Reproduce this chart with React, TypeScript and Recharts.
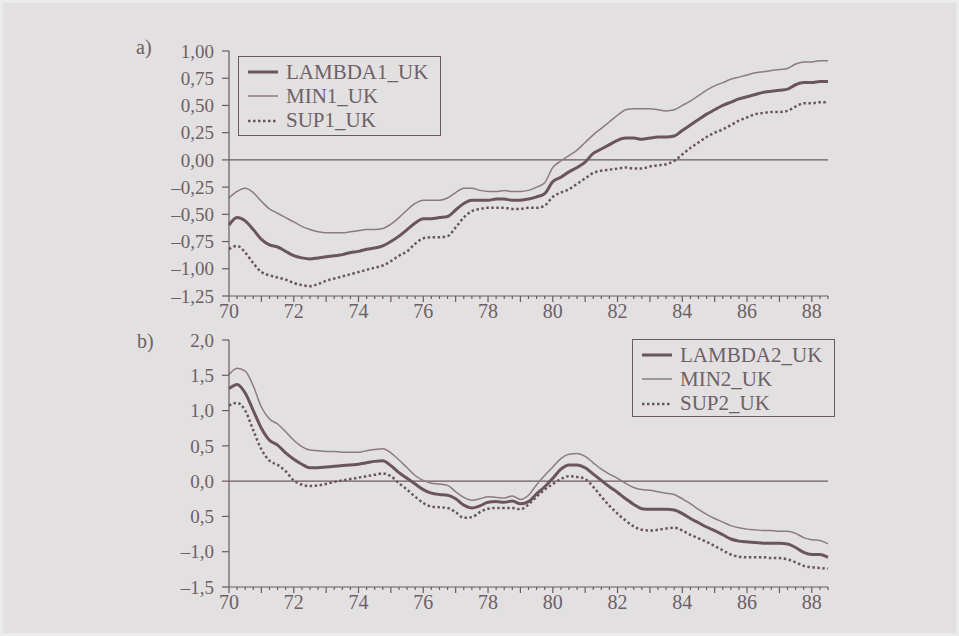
import React from 'react';
import { LineChart, Line, XAxis, YAxis, ReferenceLine, Legend } from 'recharts';

// quarterly time points, 1970 .. 1988.5
const years = [
  70, 70.25, 70.5, 70.75, 71, 71.25, 71.5, 71.75, 72, 72.25, 72.5, 72.75,
  73, 73.25, 73.5, 73.75, 74, 74.25, 74.5, 74.75, 75, 75.25, 75.5, 75.75,
  76, 76.25, 76.5, 76.75, 77, 77.25, 77.5, 77.75, 78, 78.25, 78.5, 78.75,
  79, 79.25, 79.5, 79.75, 80, 80.25, 80.5, 80.75, 81, 81.25, 81.5, 81.75,
  82, 82.25, 82.5, 82.75, 83, 83.25, 83.5, 83.75, 84, 84.25, 84.5, 84.75,
  85, 85.25, 85.5, 85.75, 86, 86.25, 86.5, 86.75, 87, 87.25, 87.5, 87.75,
  88, 88.25, 88.5,
];

const lambda1 = [
  -0.60, -0.53, -0.56, -0.64, -0.73, -0.78, -0.80, -0.84, -0.88, -0.90, -0.91, -0.90,
  -0.89, -0.88, -0.87, -0.85, -0.84, -0.82, -0.81, -0.79, -0.75, -0.70, -0.64, -0.58,
  -0.54, -0.54, -0.53, -0.52, -0.46, -0.40, -0.37, -0.37, -0.37, -0.36, -0.36, -0.37,
  -0.37, -0.36, -0.34, -0.31, -0.20, -0.16, -0.11, -0.07, -0.02, 0.06, 0.10, 0.14,
  0.18, 0.20, 0.20, 0.19, 0.20, 0.21, 0.21, 0.22, 0.27, 0.32, 0.37, 0.42,
  0.46, 0.50, 0.53, 0.56, 0.58, 0.60, 0.62, 0.63, 0.64, 0.65, 0.69, 0.71,
  0.71, 0.72, 0.72,
];
const min1 = [
  -0.35, -0.29, -0.26, -0.30, -0.38, -0.45, -0.49, -0.53, -0.57, -0.61, -0.64, -0.66,
  -0.67, -0.67, -0.67, -0.66, -0.65, -0.64, -0.64, -0.63, -0.59, -0.53, -0.46, -0.40,
  -0.37, -0.37, -0.37, -0.35, -0.30, -0.26, -0.26, -0.28, -0.29, -0.29, -0.28, -0.29,
  -0.29, -0.28, -0.25, -0.21, -0.07, -0.01, 0.04, 0.09, 0.16, 0.23, 0.29, 0.35,
  0.41, 0.46, 0.47, 0.47, 0.47, 0.46, 0.45, 0.46, 0.50, 0.54, 0.59, 0.64,
  0.68, 0.71, 0.74, 0.76, 0.78, 0.80, 0.81, 0.82, 0.83, 0.84, 0.88, 0.90,
  0.90, 0.91, 0.91,
];
const sup1 = [
  -0.82, -0.79, -0.85, -0.95, -1.03, -1.06, -1.08, -1.10, -1.13, -1.15, -1.16, -1.14,
  -1.11, -1.09, -1.07, -1.05, -1.03, -1.01, -0.99, -0.97, -0.93, -0.88, -0.84, -0.77,
  -0.72, -0.71, -0.71, -0.70, -0.62, -0.53, -0.47, -0.45, -0.44, -0.44, -0.44, -0.45,
  -0.45, -0.44, -0.44, -0.42, -0.34, -0.30, -0.27, -0.22, -0.17, -0.12, -0.10, -0.09,
  -0.08, -0.07, -0.08, -0.08, -0.06, -0.05, -0.04, -0.01, 0.05, 0.11, 0.16, 0.21,
  0.25, 0.28, 0.32, 0.36, 0.39, 0.42, 0.43, 0.44, 0.44, 0.45, 0.49, 0.52,
  0.52, 0.53, 0.53,
];

const lambda2 = [
  1.31, 1.37, 1.25, 1.00, 0.75, 0.58, 0.51, 0.40, 0.31, 0.24, 0.19, 0.19,
  0.20, 0.21, 0.22, 0.23, 0.24, 0.26, 0.28, 0.29, 0.22, 0.12, 0.04, -0.04,
  -0.12, -0.17, -0.19, -0.20, -0.25, -0.34, -0.38, -0.35, -0.30, -0.29, -0.30, -0.28,
  -0.32, -0.29, -0.18, -0.08, 0.04, 0.17, 0.23, 0.23, 0.19, 0.10, 0.01, -0.08,
  -0.16, -0.25, -0.33, -0.39, -0.40, -0.40, -0.40, -0.41, -0.46, -0.53, -0.59, -0.65,
  -0.70, -0.76, -0.82, -0.85, -0.86, -0.87, -0.88, -0.88, -0.88, -0.89, -0.94, -1.01,
  -1.04, -1.04, -1.08,
];
const min2 = [
  1.51, 1.60, 1.56, 1.35, 1.05, 0.88, 0.81, 0.70, 0.58, 0.49, 0.44, 0.43,
  0.42, 0.42, 0.41, 0.41, 0.41, 0.43, 0.45, 0.46, 0.40, 0.30, 0.19, 0.08,
  0.01, -0.03, -0.04, -0.06, -0.15, -0.23, -0.27, -0.25, -0.22, -0.23, -0.24, -0.21,
  -0.26, -0.20, -0.05, 0.08, 0.20, 0.32, 0.38, 0.39, 0.35, 0.26, 0.17, 0.10,
  0.04, -0.03, -0.09, -0.12, -0.13, -0.15, -0.17, -0.19, -0.25, -0.32, -0.40, -0.47,
  -0.53, -0.58, -0.63, -0.66, -0.68, -0.69, -0.70, -0.70, -0.71, -0.71, -0.74, -0.80,
  -0.83, -0.84, -0.89,
];
const sup2 = [
  1.07, 1.11, 1.00, 0.72, 0.45, 0.29, 0.23, 0.14, 0.01, -0.05, -0.07, -0.06,
  -0.04, -0.01, 0.01, 0.03, 0.05, 0.07, 0.09, 0.11, 0.07, -0.03, -0.12, -0.22,
  -0.31, -0.36, -0.37, -0.38, -0.44, -0.52, -0.51, -0.44, -0.39, -0.38, -0.38, -0.38,
  -0.40, -0.33, -0.22, -0.12, -0.04, 0.03, 0.07, 0.06, 0.03, -0.08, -0.22, -0.35,
  -0.46, -0.56, -0.64, -0.69, -0.70, -0.69, -0.67, -0.66, -0.70, -0.76, -0.81, -0.86,
  -0.92, -0.98, -1.04, -1.07, -1.08, -1.08, -1.08, -1.09, -1.09, -1.11, -1.15, -1.20,
  -1.22, -1.23, -1.24,
];

const yTicksA = [1, 0.75, 0.5, 0.25, 0, -0.25, -0.5, -0.75, -1, -1.25];
const yLabelsA = ['1,00', '0,75', '0,50', '0,25', '0,00', '–0,25', '–0,50', '–0,75', '–1,00', '–1,25'];
const yTicksB = [2, 1.5, 1, 0.5, 0, -0.5, -1, -1.5];
const yLabelsB = ['2,0', '1,5', '1,0', '0,5', '0,0', '0,5', '–1,0', '–1,5'];

const namesA = ['LAMBDA1_UK', 'MIN1_UK', 'SUP1_UK'];
const namesB = ['LAMBDA2_UK', 'MIN2_UK', 'SUP2_UK'];

const dataA = years.map((t, i) => ({ t, lambda: lambda1[i], min: min1[i], sup: sup1[i] }));
const dataB = years.map((t, i) => ({ t, lambda: lambda2[i], min: min2[i], sup: sup2[i] }));

const FONT = '"Times New Roman", "Liberation Serif", Times, serif';
const BG = '#e3e0e2';
const INK = '#6b555c';
const LIGHT = '#8d7a80';
const TEXT = '#6c6165';
const AXIS = '#6a5a5f';

const XTick = (props: any) => {
  const { x, y, payload } = props;
  const v = payload.value;
  const major = Number.isInteger(v);
  return (
    <g>
      <line x1={x} x2={x} y1={y} y2={y + (major ? 6 : 3)} stroke={AXIS} strokeWidth={1.2} />
      {major && v % 2 === 0 && (
        <text x={x} y={y + 22} textAnchor="middle" fontSize={20} fill={TEXT} fontFamily={FONT}>
          {v}
        </text>
      )}
    </g>
  );
};

const makeYTick = (ticks: number[], labels: string[]) => (props: any) => {
  const { x, y, payload } = props;
  const label = labels[ticks.indexOf(payload.value)];
  return (
    <g>
      <line x1={x - 7} x2={x} y1={y} y2={y} stroke={AXIS} strokeWidth={1.2} />
      <text x={x - 15} y={y} dy="0.35em" textAnchor="end" fontSize={19} fill={TEXT} fontFamily={FONT}>
        {label}
      </text>
    </g>
  );
};

const Sample = ({ kind }: { kind: string }) => (
  <svg width={32} height={10} style={{ marginRight: 7 }}>
    {kind === 'lambda' && <line x1={1} x2={31} y1={5} y2={5} stroke={INK} strokeWidth={3} />}
    {kind === 'min' && <line x1={1} x2={31} y1={5} y2={5} stroke={LIGHT} strokeWidth={1.5} />}
    {kind === 'sup' && <line x1={1} x2={31} y1={5} y2={5} stroke={INK} strokeWidth={2.5} strokeDasharray="2.5 2.5" />}
  </svg>
);

const makeLegend = (names: string[], height: number) => () => (
  <div
    style={{
      width: 203,
      height,
      boxSizing: 'border-box',
      border: `1.3px solid ${AXIS}`,
      background: BG,
      padding: '3px 0 0 8px',
      fontFamily: FONT,
      fontSize: 21,
      color: TEXT,
    }}
  >
    {['lambda', 'min', 'sup'].map((k, i) => (
      <div key={k} style={{ display: 'flex', alignItems: 'center', height: 24.3, whiteSpace: 'nowrap' }}>
        <Sample kind={k} />
        {names[i]}
      </div>
    ))}
  </div>
);

const Panel = ({ data, yTicks, yLabels, names, legendPos, legendH, height, margin }: any) => (
  <LineChart width={959} height={height} data={data} margin={margin}>
    <XAxis
      dataKey="t"
      type="number"
      domain={[70, 88.5]}
      ticks={years}
      interval={0}
      height={30}
      tickSize={0}
      tickMargin={0}
      tickLine={false}
      axisLine={{ stroke: AXIS, strokeWidth: 1.2 }}
      tick={<XTick />}
    />
    <YAxis
      type="number"
      domain={[yTicks[yTicks.length - 1], yTicks[0]]}
      ticks={yTicks}
      interval={0}
      width={60}
      tickSize={0}
      tickMargin={0}
      tickLine={false}
      axisLine={{ stroke: AXIS, strokeWidth: 1.2 }}
      tick={makeYTick(yTicks, yLabels)}
    />
    <ReferenceLine y={0} stroke={AXIS} strokeWidth={1.2} />
    <Legend
      layout="vertical"
      align="center"
      verticalAlign="middle"
      content={makeLegend(names, legendH)}
      wrapperStyle={{ left: legendPos[0], top: legendPos[1], width: 203 }}
    />
    <Line type="monotone" dataKey="min" name={names[1]} stroke={LIGHT} strokeWidth={1.5} dot={false} isAnimationActive={false} />
    <Line type="monotone" dataKey="sup" name={names[2]} stroke={INK} strokeWidth={2.5} strokeDasharray="2.5 2.5" dot={false} isAnimationActive={false} />
    <Line type="monotone" dataKey="lambda" name={names[0]} stroke={INK} strokeWidth={3} dot={false} isAnimationActive={false} />
  </LineChart>
);

export default function App() {
  const label = { position: 'absolute' as const, fontFamily: FONT, fontSize: 20, color: TEXT };
  return (
    <div
      style={{
        position: 'absolute',
        left: 0,
        top: 0,
        width: 959,
        height: 636,
        background: BG,
        border: '3px solid #ecebec',
        boxSizing: 'border-box',
        overflow: 'hidden',
      }}
    >
      <div style={{ position: 'absolute', left: -3, top: -3 }}>
        <Panel
          data={dataA}
          yTicks={yTicksA}
          yLabels={yLabelsA}
          names={namesA}
          legendPos={[238, 56]}
          legendH={80}
          height={330}
          margin={{ top: 51, right: 131, bottom: 4, left: 169 }}
        />
      </div>
      <div style={{ position: 'absolute', left: -3, top: 327 }}>
        <Panel
          data={dataB}
          yTicks={yTicksB}
          yLabels={yLabelsB}
          names={namesB}
          legendPos={[632, 9]}
          legendH={78}
          height={306}
          margin={{ top: 10, right: 131, bottom: 19, left: 169 }}
        />
      </div>
      <div style={{ ...label, left: 133, top: 33 }}>a)</div>
      <div style={{ ...label, left: 134, top: 327 }}>b)</div>
    </div>
  );
}
